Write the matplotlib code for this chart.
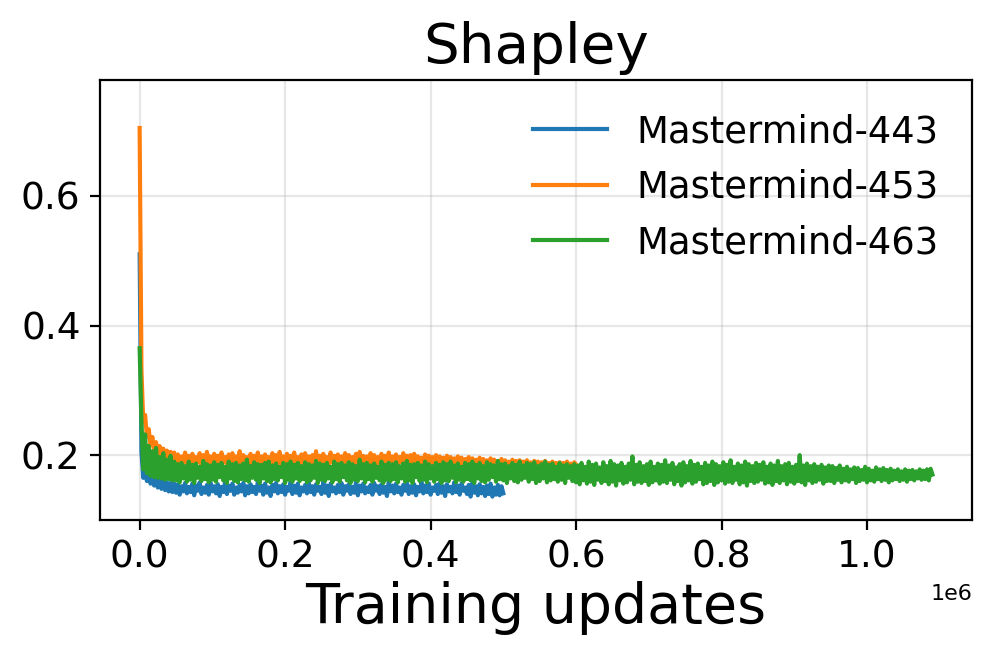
import numpy as np
import matplotlib
matplotlib.use("Agg")
import matplotlib.pyplot as plt

STEP = 2500  # logging interval (training updates)

labels = ["Mastermind-443", "Mastermind-453", "Mastermind-463"]

shapley_443 = [
    0.510, 0.205, 0.165, 0.178, 0.160, 0.172, 0.156, 0.168, 0.153, 0.165,
    0.150, 0.162, 0.148, 0.160, 0.146, 0.158, 0.144, 0.157, 0.143, 0.156,
    0.142, 0.155, 0.139, 0.152, 0.144, 0.157, 0.141, 0.151, 0.143, 0.156,
    0.138, 0.153, 0.145, 0.158, 0.140, 0.150, 0.142, 0.154, 0.139, 0.157,
    0.144, 0.152, 0.141, 0.155, 0.137, 0.151, 0.143, 0.158, 0.140, 0.153,
    0.145, 0.156, 0.139, 0.150, 0.142, 0.154, 0.144, 0.157, 0.138, 0.152,
    0.141, 0.155, 0.143, 0.151, 0.140, 0.158, 0.145, 0.153, 0.139, 0.156,
    0.142, 0.150, 0.137, 0.154, 0.144, 0.157, 0.141, 0.152, 0.143, 0.155,
    0.139, 0.151, 0.145, 0.158, 0.140, 0.153, 0.142, 0.156, 0.138, 0.150,
    0.144, 0.154, 0.141, 0.157, 0.143, 0.152, 0.139, 0.155, 0.145, 0.151,
    0.140, 0.158, 0.142, 0.153, 0.137, 0.156, 0.144, 0.150, 0.141, 0.154,
    0.143, 0.157, 0.139, 0.152, 0.145, 0.155, 0.140, 0.151, 0.142, 0.158,
    0.138, 0.153, 0.144, 0.156, 0.141, 0.150, 0.143, 0.154, 0.139, 0.157,
    0.145, 0.152, 0.140, 0.155, 0.142, 0.151, 0.137, 0.158, 0.144, 0.153,
    0.141, 0.156, 0.143, 0.150, 0.139, 0.154, 0.145, 0.157, 0.140, 0.152,
    0.142, 0.155, 0.138, 0.151, 0.144, 0.158, 0.141, 0.153, 0.143, 0.156,
    0.139, 0.150, 0.145, 0.154, 0.140, 0.157, 0.142, 0.152, 0.137, 0.155,
    0.144, 0.151, 0.141, 0.158, 0.143, 0.153, 0.139, 0.156, 0.145, 0.150,
    0.140, 0.154, 0.136, 0.157, 0.142, 0.152, 0.138, 0.155, 0.141, 0.151,
    0.137, 0.153, 0.140, 0.156, 0.136, 0.150, 0.139, 0.154, 0.138, 0.152,
    0.141,
]

shapley_453 = [
    0.705, 0.330, 0.250, 0.262, 0.228, 0.240, 0.215, 0.228, 0.205, 0.220,
    0.198, 0.214, 0.193, 0.210, 0.190, 0.207, 0.188, 0.205, 0.186, 0.204,
    0.186, 0.201, 0.183, 0.198, 0.188, 0.204, 0.184, 0.199, 0.187, 0.202,
    0.182, 0.197, 0.189, 0.203, 0.185, 0.200, 0.183, 0.205, 0.188, 0.198,
    0.184, 0.202, 0.186, 0.199, 0.182, 0.204, 0.189, 0.197, 0.185, 0.201,
    0.187, 0.203, 0.183, 0.198, 0.186, 0.206, 0.184, 0.200, 0.188, 0.197,
    0.182, 0.202, 0.185, 0.199, 0.189, 0.204, 0.183, 0.198, 0.186, 0.201,
    0.184, 0.197, 0.187, 0.203, 0.182, 0.200, 0.188, 0.205, 0.185, 0.198,
    0.183, 0.202, 0.186, 0.199, 0.189, 0.204, 0.184, 0.197, 0.187, 0.201,
    0.182, 0.203, 0.185, 0.198, 0.188, 0.200, 0.183, 0.206, 0.186, 0.199,
    0.184, 0.202, 0.187, 0.197, 0.182, 0.204, 0.189, 0.199, 0.185, 0.201,
    0.183, 0.198, 0.186, 0.203, 0.188, 0.200, 0.184, 0.197, 0.187, 0.202,
    0.182, 0.205, 0.185, 0.199, 0.189, 0.198, 0.183, 0.203, 0.186, 0.200,
    0.184, 0.197, 0.188, 0.202, 0.182, 0.199, 0.185, 0.204, 0.187, 0.198,
    0.183, 0.201, 0.186, 0.197, 0.189, 0.203, 0.184, 0.199, 0.182, 0.200,
    0.185, 0.202, 0.187, 0.198, 0.183, 0.196, 0.186, 0.201, 0.184, 0.199,
    0.182, 0.197, 0.185, 0.200, 0.183, 0.198, 0.186, 0.196, 0.181, 0.199,
    0.184, 0.197, 0.182, 0.195, 0.185, 0.198, 0.183, 0.196, 0.180, 0.194,
    0.184, 0.197, 0.182, 0.195, 0.179, 0.193, 0.183, 0.196, 0.181, 0.194,
    0.178, 0.192, 0.182, 0.195, 0.180, 0.193, 0.177, 0.191, 0.181, 0.194,
    0.179, 0.192, 0.176, 0.190, 0.180, 0.193, 0.178, 0.191, 0.175, 0.192,
    0.179, 0.190, 0.177, 0.192, 0.175, 0.189, 0.178, 0.191, 0.176, 0.190,
    0.174, 0.189, 0.177, 0.191, 0.175, 0.188, 0.178, 0.190, 0.176, 0.188,
    0.174, 0.189, 0.177, 0.188, 0.175, 0.190, 0.176, 0.187, 0.174, 0.189,
    0.185,
]

shapley_463 = [
    0.365, 0.250, 0.178, 0.232, 0.172, 0.214, 0.168, 0.206, 0.166, 0.211,
    0.165, 0.197, 0.164, 0.203, 0.162, 0.193, 0.163, 0.199, 0.161, 0.190,
    # 0.05e6 - 0.6e6
    0.161, 0.186, 0.158, 0.188, 0.164, 0.183, 0.159, 0.190, 0.162, 0.185,
    0.157, 0.187, 0.165, 0.182, 0.160, 0.191, 0.163, 0.186, 0.158, 0.184,
    0.162, 0.189, 0.159, 0.185, 0.166, 0.188, 0.161, 0.182, 0.157, 0.190,
    0.164, 0.186, 0.160, 0.188, 0.158, 0.184, 0.163, 0.187, 0.161, 0.193,
    0.159, 0.183, 0.165, 0.189, 0.162, 0.186, 0.157, 0.185, 0.164, 0.188,
    0.160, 0.190, 0.158, 0.184, 0.163, 0.187, 0.161, 0.182, 0.166, 0.188,
    0.157, 0.186, 0.162, 0.190, 0.159, 0.185, 0.164, 0.188, 0.160, 0.183,
    0.163, 0.189, 0.158, 0.186, 0.161, 0.184, 0.165, 0.191, 0.157, 0.187,
    0.162, 0.185, 0.160, 0.188, 0.164, 0.182, 0.158, 0.190, 0.163, 0.186,
    0.159, 0.188, 0.166, 0.184, 0.161, 0.189, 0.157, 0.186, 0.162, 0.183,
    0.160, 0.193, 0.164, 0.186, 0.158, 0.188, 0.163, 0.184, 0.159, 0.187,
    0.165, 0.182, 0.161, 0.190, 0.157, 0.185, 0.162, 0.188, 0.160, 0.186,
    0.163, 0.189, 0.158, 0.183, 0.164, 0.187, 0.159, 0.191, 0.161, 0.185,
    0.157, 0.186, 0.166, 0.188, 0.160, 0.184, 0.162, 0.190, 0.158, 0.186,
    0.164, 0.183, 0.159, 0.188, 0.163, 0.185, 0.157, 0.189, 0.161, 0.186,
    0.160, 0.190, 0.165, 0.184, 0.158, 0.187, 0.162, 0.182, 0.159, 0.188,
    0.163, 0.186, 0.161, 0.190, 0.157, 0.185, 0.164, 0.188, 0.160, 0.183,
    0.158, 0.189, 0.162, 0.186, 0.166, 0.184, 0.159, 0.191, 0.163, 0.186,
    0.161, 0.187, 0.157, 0.183, 0.164, 0.188, 0.160, 0.185, 0.158, 0.190,
    0.162, 0.184, 0.165, 0.188, 0.159, 0.186, 0.163, 0.189, 0.157, 0.183,
    0.160, 0.186, 0.164, 0.190, 0.158, 0.185, 0.161, 0.187, 0.163, 0.182,
    0.159, 0.188, 0.162, 0.184, 0.157, 0.186, 0.165, 0.183, 0.160, 0.186,
    # 0.6e6 - 0.95e6
    0.158, 0.184, 0.155, 0.188, 0.161, 0.182, 0.156, 0.190, 0.159, 0.185,
    0.154, 0.187, 0.162, 0.181, 0.157, 0.189, 0.160, 0.183, 0.155, 0.191,
    0.159, 0.186, 0.153, 0.184, 0.161, 0.188, 0.156, 0.182, 0.158, 0.187,
    0.162, 0.198, 0.155, 0.185, 0.159, 0.189, 0.157, 0.183, 0.160, 0.186,
    0.154, 0.190, 0.158, 0.182, 0.161, 0.187, 0.156, 0.185, 0.159, 0.192,
    0.157, 0.184, 0.162, 0.188, 0.155, 0.181, 0.160, 0.186, 0.153, 0.189,
    0.158, 0.183, 0.161, 0.191, 0.156, 0.185, 0.159, 0.187, 0.163, 0.182,
    0.155, 0.188, 0.157, 0.184, 0.160, 0.190, 0.154, 0.186, 0.158, 0.183,
    0.161, 0.189, 0.156, 0.185, 0.159, 0.192, 0.157, 0.182, 0.162, 0.187,
    0.155, 0.184, 0.158, 0.190, 0.153, 0.186, 0.160, 0.183, 0.157, 0.188,
    0.159, 0.185, 0.162, 0.189, 0.156, 0.182, 0.158, 0.187, 0.154, 0.184,
    0.160, 0.191, 0.157, 0.183, 0.161, 0.186, 0.155, 0.188, 0.159, 0.182,
    0.156, 0.185, 0.160, 0.200, 0.158, 0.184, 0.154, 0.187, 0.161, 0.183,
    0.157, 0.186, 0.159, 0.182, 0.162, 0.185, 0.156, 0.181, 0.160, 0.184,
    # 0.95e6 - 1.09e6
    0.160, 0.183, 0.157, 0.180, 0.162, 0.184, 0.158, 0.179, 0.161, 0.182,
    0.159, 0.178, 0.163, 0.181, 0.157, 0.180, 0.160, 0.177, 0.162, 0.182,
    0.158, 0.179, 0.161, 0.176, 0.159, 0.181, 0.163, 0.178, 0.160, 0.180,
    0.162, 0.177, 0.158, 0.179, 0.161, 0.176, 0.163, 0.178, 0.160, 0.175,
    0.162, 0.178, 0.159, 0.176, 0.163, 0.177, 0.161, 0.175, 0.164, 0.178,
    0.162, 0.176, 0.163, 0.178, 0.161, 0.179, 0.170,
]

series = [shapley_443, shapley_453, shapley_463]
colors = ["#1f77b4", "#ff7f0e", "#2ca02c"]

plt.rcParams["path.simplify"] = False

fig = plt.figure(figsize=(4.985, 3.32), dpi=200)
ax = fig.add_axes([0.1003, 0.217, 0.8747, 0.6625])

for vals, lab, col in zip(series, labels, colors):
    y = np.array(vals)
    x = np.arange(len(y)) * STEP
    ax.plot(x, y, color=col, lw=1.5, label=lab)

ax.set_ylim(0.1, 0.779)
ax.set_yticks([0.2, 0.4, 0.6])
ax.grid(True, alpha=0.3)
ax.tick_params(labelsize=13.5)
ax.xaxis.get_offset_text().set_fontsize(8)
ax.set_title("Shapley", fontsize=20.3)
ax.set_xlabel("Training updates", fontsize=20, labelpad=2)
ax.legend(loc="upper right", frameon=False, fontsize=13.3)

fig.savefig("out.png", dpi=200)
